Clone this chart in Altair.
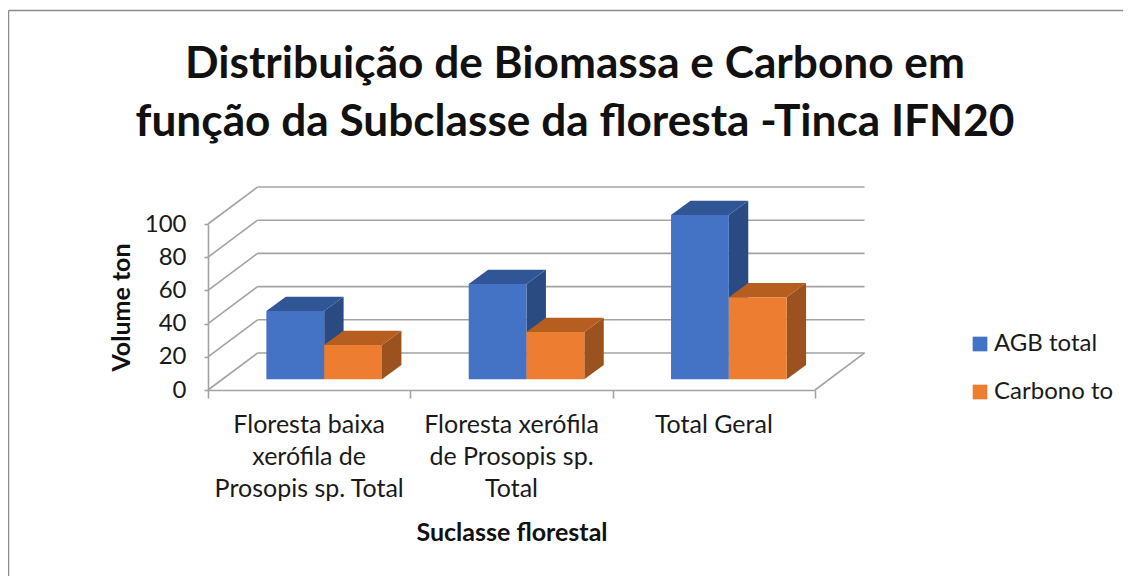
import altair as alt
import pandas as pd

categories = ["Floresta baixa\nxerófila de\nProsopis sp. Total", "Floresta xerófila\nde Prosopis sp.\nTotal", "Total Geral"]
series = ["AGB total", "Carbono to"]
agb_values = [41.1, 57.4, 99.0]
carbono_values = [20.7, 28.5, 49.4]
y_ticks = [0, 20, 40, 60, 80, 100]
x_ticks = [0, 1, 2, 3]
title_text = "Distribuição de Biomassa e Carbono em\nfunção da Subclasse da floresta -Tinca IFN20"

FONT = "Lato"
GRID = "#A3A3A3"
WALL_X, WALL_Y = 0.245, 22.3       # depth of the chart floor, in axis units
BASE_X, BASE_Y = 0.071, 6.45       # where the bars stand on the floor
DEPTH_X, DEPTH_Y = 0.096, 8.6      # depth of a bar
MARGIN, BAR_W = 0.2175, 0.2857
W, H = 607, 166

xs = alt.Scale(domain=[0, 3], nice=False, zero=False)
ys = alt.Scale(domain=[0, 100], nice=False, zero=False)
x_axis = alt.Axis(values=x_ticks, labels=False, grid=False, domainColor=GRID, tickColor=GRID,
                  domainWidth=1.6, tickWidth=1.6, tickSize=8, titleFont=FONT, titleFontSize=25,
                  titleFontWeight="bold", titleColor="#111111", titlePadding=122)
y_axis = alt.Axis(values=y_ticks, grid=False, labelOverlap=False, domainColor=GRID, tickColor=GRID,
                  domainWidth=1.6, tickWidth=1.6, tickSize=4, labelFont=FONT, labelFontSize=24,
                  labelColor="#1a1a1a", labelPadding=18, titleFont=FONT, titleFontSize=25,
                  titleFontWeight="bold", titleColor="#111111", titlePadding=10)
X = alt.X("x:Q", scale=xs, title="Suclasse florestal", axis=x_axis)
Y = alt.Y("y:Q", scale=ys, title="Volume ton", axis=y_axis)

grid_rows = []
for v in y_ticks:
    grid_rows.append({"x": 0, "x2": WALL_X, "y": v, "y2": v + WALL_Y})
    grid_rows.append({"x": WALL_X, "x2": 3 + WALL_X, "y": v + WALL_Y, "y2": v + WALL_Y})
grid_rows.append({"x": 3, "x2": 3 + WALL_X, "y": 0, "y2": WALL_Y})
grid = alt.Chart(pd.DataFrame(grid_rows)).mark_rule(color=GRID, strokeWidth=1.6).encode(
    x=X, x2="x2:Q", y=Y, y2="y2:Q")

front, tops, sides = [], [], []
for s_i, (name, vals) in enumerate(zip(series, [agb_values, carbono_values])):
    for c_i, v in enumerate(vals):
        x0 = c_i + MARGIN + BASE_X + s_i * BAR_W
        x1 = x0 + BAR_W
        y0, y1 = BASE_Y, BASE_Y + v
        front.append({"series": name, "x": x0, "x2": x1, "y": y0, "y2": y1})
        key = f"{name}{c_i}"
        sides += [
            {"series": name, "k": key, "x": x1, "y": y0, "y2": y1},
            {"series": name, "k": key, "x": x1 + DEPTH_X, "y": y0 + DEPTH_Y, "y2": y1 + DEPTH_Y},
        ]
        tops += [
            {"series": name, "k": key, "x": x0, "y": y1, "y2": y1},
            {"series": name, "k": key, "x": x0 + DEPTH_X, "y": y1, "y2": y1 + DEPTH_Y},
            {"series": name, "k": key, "x": x1, "y": y1, "y2": y1 + DEPTH_Y},
            {"series": name, "k": key, "x": x1 + DEPTH_X, "y": y1 + DEPTH_Y, "y2": y1 + DEPTH_Y},
        ]
front, tops, sides = pd.DataFrame(front), pd.DataFrame(tops), pd.DataFrame(sides)

color = alt.Color("series:N", scale=alt.Scale(domain=series, range=["#4472C4", "#ED7D31"]),
                  legend=alt.Legend(title=None, orient="none", legendX=760, legendY=108,
                                    symbolType="square", symbolSize=216, symbolStrokeWidth=0,
                                    labelFont=FONT, labelFontSize=24, labelColor="#1a1a1a",
                                    rowPadding=24, labelOffset=2, labelLimit=200))

def faces(name, side_c, top_c):
    s = sides[sides.series == name]
    t = tops[tops.series == name]
    f = front[front.series == name]
    return [
        alt.Chart(s).mark_area(color=side_c, orient="vertical").encode(x=X, y=Y, y2="y2:Q", detail="k:N"),
        alt.Chart(t).mark_area(color=top_c, orient="vertical").encode(x=X, y=Y, y2="y2:Q", detail="k:N"),
        alt.Chart(f).mark_bar().encode(x=X, x2="x2:Q", y=Y, y2="y2:Q", color=color),
    ]

cat_df = pd.DataFrame({"x": [i + 0.5 for i in range(3)], "t": categories})
cat_text = alt.Chart(cat_df).mark_text(font=FONT, fontSize=25, color="#1a1a1a", lineBreak="\n", lineHeight=32,
                                       baseline="top", align="center").encode(
    x=X, y=alt.value(189), text="t:N")

title_layer = alt.Chart(pd.DataFrame({"t": [title_text]})).mark_text(
    font=FONT, fontSize=44.2, fontWeight="bold", color="#111111", lineBreak="\n", lineHeight=58,
    baseline="alphabetic", align="center").encode(x=alt.value(367), y=alt.value(-146), text="t:N")

frame_top = alt.Chart(pd.DataFrame({"a": [0]})).mark_rule(color="#8C8C8C", strokeWidth=1.5).encode(
    x=alt.value(-199.5), x2=alt.value(915), y=alt.value(-213.5))
frame_left = alt.Chart(pd.DataFrame({"a": [0]})).mark_rule(color="#8C8C8C", strokeWidth=1.5).encode(
    x=alt.value(-199.5), y=alt.value(-213.5), y2=alt.value(352))

chart = alt.layer(
    frame_top, frame_left, grid,
    *faces(series[0], "#2A4B82", "#315696"),
    *faces(series[1], "#9C521F", "#B65E20"),
    cat_text, title_layer,
).properties(
    width=W, height=H,
    padding={"left": 200, "top": 216, "right": 308, "bottom": 186},
    autosize=alt.AutoSizeParams(type="none"),
).configure_view(stroke=None)

chart.save("out.html", embed_options={"renderer": "svg", "actions": False})
